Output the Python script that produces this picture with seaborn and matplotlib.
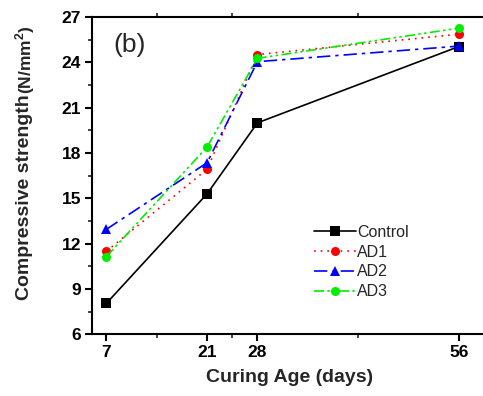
import pandas as pd
import matplotlib
matplotlib.use('Agg')
import matplotlib.pyplot as plt
import seaborn as sns
from matplotlib.ticker import MultipleLocator, FixedLocator

# Data
days = [7, 21, 28, 56]
control = [8.05, 15.3, 20.0, 25.05]
ad1 = [11.5, 16.93, 24.52, 25.87]
ad2 = [12.95, 17.36, 24.05, 25.08]
ad3 = [11.15, 18.4, 24.27, 26.27]
series_names = ['Control', 'AD1', 'AD2', 'AD3']

df = pd.DataFrame({
    'day': days * 4,
    'strength': control + ad1 + ad2 + ad3,
    'mix': [n for n in series_names for _ in days],
})

sns.set_style('ticks')
plt.rcParams['font.family'] = ['Liberation Sans', 'DejaVu Sans']
plt.rcParams['mathtext.fontset'] = 'custom'
plt.rcParams['mathtext.bf'] = 'Liberation Sans:bold'
plt.rcParams['mathtext.rm'] = 'Liberation Sans'

fig = plt.figure(figsize=(4.83, 3.96), dpi=100)
ax = fig.add_axes([0.1905, 0.1558, 0.819, 0.801])

palette = {'Control': '#000000', 'AD1': '#ff0000', 'AD2': '#0000ff', 'AD3': '#00ee00'}
markers = {'Control': 's', 'AD1': 'o', 'AD2': '^', 'AD3': 'o'}
dashes = {'Control': '', 'AD1': (1, 3), 'AD2': (8, 3, 2, 3), 'AD3': (6, 2, 1.5, 2, 1.5, 2)}

sns.lineplot(data=df, x='day', y='strength', hue='mix', style='mix',
             palette=palette, markers=markers, dashes=dashes,
             markersize=6.5, markeredgewidth=0, linewidth=1.2, ax=ax)

ax.set_xlim(5, 60)
ax.set_ylim(6, 27)
ax.xaxis.set_major_locator(FixedLocator(days))
ax.xaxis.set_minor_locator(FixedLocator([14, 24.5, 42]))
ax.yaxis.set_major_locator(MultipleLocator(3))
ax.yaxis.set_minor_locator(MultipleLocator(1.5))

for s in ax.spines.values():
    s.set_linewidth(1.5)
    s.set_color('black')
ax.spines['right'].set_visible(False)
ax.tick_params(which='major', direction='out', length=5, width=1.5, labelsize=12.5, colors='black', pad=3)
ax.tick_params(which='minor', direction='out', length=3, width=1.2)
ax.tick_params(axis='x', which='minor', top=True)
for lab in ax.get_xticklabels() + ax.get_yticklabels():
    lab.set_fontweight('bold')

ax.set_xlabel('Curing Age (days)', fontsize=14, fontweight='bold', labelpad=6)
ax.set_ylabel('')
# y label: main part plus smaller unit part, as in the original
fig.text(25 / 483, (396 - 300) / 396, 'Compressive strength', rotation=90,
         ha='center', va='bottom', fontsize=14, fontweight='bold')
fig.text(25 / 483, (396 - 94) / 396, r'(N/mm$^{\mathbf{2}}$)', rotation=90,
         ha='center', va='bottom', fontsize=12.5, fontweight='bold')

ax.text(0.055, 0.95, '(b)', transform=ax.transAxes, fontsize=19, va='top')

ax.legend(title=None, frameon=False, fontsize=11.5, loc='upper left',
          bbox_to_anchor=(0.545, 0.365), handlelength=2.6, handletextpad=0.1,
          labelspacing=0.3, borderaxespad=0)

fig.savefig('out.png', dpi=100)
